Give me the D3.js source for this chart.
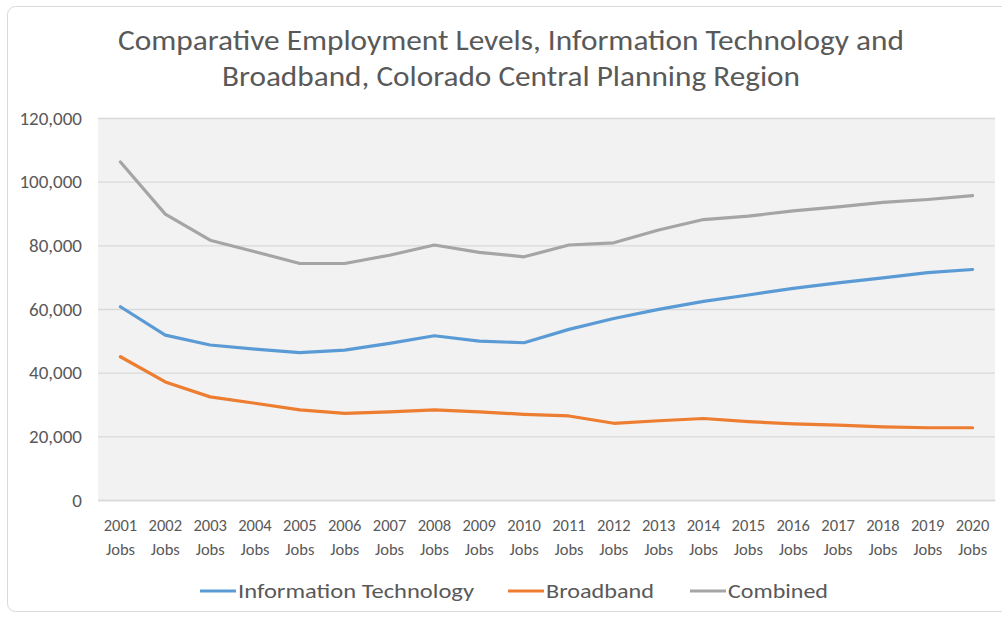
<!DOCTYPE html>
<html>
<head>
<meta charset="utf-8">
<script src="https://cdn.jsdelivr.net/npm/d3@7"></script>
<style>
  body { margin: 0; background: #fff; }
  svg text { font-family: Carlito, Calibri, "Open Sans", sans-serif; fill: #595959; }
</style>
</head>
<body>
<div id="chart"></div>
<script>
// data
const years = ["2001","2002","2003","2004","2005","2006","2007","2008","2009","2010",
               "2011","2012","2013","2014","2015","2016","2017","2018","2019","2020"];
const infoTech = [60700, 51800, 48700, 47400, 46300, 47100, 49200, 51600, 49900, 49400,
                  53600, 57000, 59900, 62400, 64400, 66500, 68200, 69800, 71400, 72400];
const broadband = [45000, 37100, 32400, 30400, 28300, 27200, 27700, 28300, 27700, 26900,
                   26400, 24100, 24900, 25600, 24600, 23900, 23500, 23000, 22700, 22700];
const combined = [106200, 89800, 81600, 78000, 74300, 74300, 76900, 80100, 77800, 76400,
                  80100, 80800, 84800, 88100, 89200, 90800, 92100, 93500, 94400, 95600];
const yTicks = [0, 20000, 40000, 60000, 80000, 100000, 120000];
const seriesNames = ["Information Technology", "Broadband", "Combined"];
const seriesColors = ["#5b9bd5", "#ed7d31", "#a5a5a5"];

let wSvg = 1002, hSvg = 617;
let plot = { left: 98, right: 995, top: 118, bottom: 500 };

let svg = d3.select("#chart").append("svg")
    .attr("width", wSvg).attr("height", hSvg);

// outer chart frame
svg.append("rect")
    .attr("x", 7.5).attr("y", 6.5)
    .attr("width", 1010).attr("height", 605)
    .attr("rx", 8)
    .attr("fill", "#fff").attr("stroke", "#d9d9d9");

// title
let titleLines = [
    { text: "Comparative Employment Levels, Information Technology and", y: 50, len: 786 },
    { text: "Broadband, Colorado Central Planning Region", y: 86, len: 578 }
];
svg.selectAll(".title").data(titleLines).enter().append("text")
    .attr("class", "title")
    .attr("x", 511).attr("y", d => d.y)
    .attr("text-anchor", "middle")
    .attr("font-size", 28)
    .attr("textLength", d => d.len)
    .attr("lengthAdjust", "spacingAndGlyphs")
    .text(d => d.text);

// scales
const xScale = d3.scaleBand()
    .domain(years)
    .range([plot.left, plot.right]);

const yScale = d3.scaleLinear()
    .domain([0, 120000])
    .range([plot.bottom, plot.top]);

// plot background
svg.append("rect")
    .attr("x", plot.left).attr("y", plot.top)
    .attr("width", plot.right - plot.left)
    .attr("height", plot.bottom - plot.top)
    .attr("fill", "#f2f2f2");

// y axis with gridlines
let yAxis = svg.append("g")
    .attr("transform", `translate(${plot.left}, 0)`)
    .call(d3.axisLeft(yScale)
        .tickValues(yTicks)
        .tickSize(-(plot.right - plot.left))
        .tickPadding(16)
        .tickFormat(d3.format(",")));
yAxis.select(".domain").remove();
yAxis.selectAll(".tick line").attr("stroke", "#d9d9d9").attr("stroke-width", 1.3);
yAxis.selectAll(".tick text")
    .attr("font-size", 19)
    .attr("fill", "#595959");

// x axis labels, two lines each
let xAxis = svg.append("g")
    .attr("transform", `translate(0, ${plot.bottom})`)
    .call(d3.axisBottom(xScale).tickSize(0).tickFormat(""));
xAxis.select(".domain").attr("stroke", "#d9d9d9").attr("stroke-width", 1.3);
xAxis.selectAll(".tick").each(function (d) {
    let t = d3.select(this).append("text")
        .attr("text-anchor", "middle")
        .attr("font-size", 16.5)
        .attr("fill", "#595959");
    t.append("tspan").attr("x", 0).attr("y", 31).text(d);
    t.append("tspan").attr("x", 0).attr("y", 55).text("Jobs");
});

// lines
let allSeries = [infoTech, broadband, combined];
const line = d3.line()
    .x((d, i) => xScale(years[i]) + xScale.bandwidth() / 2)
    .y(d => yScale(d));

svg.selectAll(".series").data(allSeries).enter().append("path")
    .attr("class", "series")
    .attr("d", d => line(d))
    .attr("fill", "none")
    .attr("stroke", (d, i) => seriesColors[i])
    .attr("stroke-width", 3.2)
    .attr("stroke-linejoin", "round")
    .attr("stroke-linecap", "round");

// legend
let legendItems = [
    { x: 200, len: 236 },
    { x: 508, len: 108 },
    { x: 690, len: 100 }
];
let legend = svg.selectAll(".legend").data(legendItems).enter().append("g")
    .attr("class", "legend")
    .attr("transform", d => `translate(${d.x}, 591)`);
legend.append("line")
    .attr("x1", 0).attr("x2", 36)
    .attr("stroke", (d, i) => seriesColors[i])
    .attr("stroke-width", 3.2);
legend.append("text")
    .attr("x", 38).attr("y", 7)
    .attr("font-size", 20)
    .attr("textLength", d => d.len)
    .attr("lengthAdjust", "spacingAndGlyphs")
    .text((d, i) => seriesNames[i]);
</script>
</body>
</html>
